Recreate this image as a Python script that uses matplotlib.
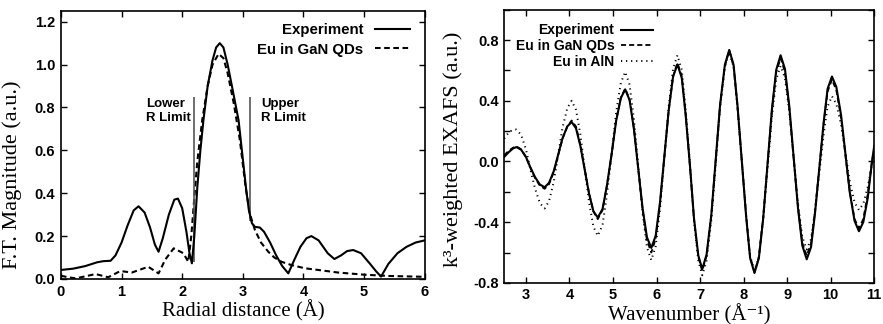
import numpy as np
import matplotlib
matplotlib.use('Agg')
import matplotlib.pyplot as plt
from matplotlib.ticker import MultipleLocator, FormatStrFormatter

plt.rcParams['font.family'] = ['Liberation Sans', 'DejaVu Sans']
plt.rcParams['font.weight'] = 'bold'
plt.rcParams['axes.unicode_minus'] = False

# left panel: Fourier transform magnitude
r_exp = [0.0, 0.2, 0.4, 0.6, 0.7, 0.82, 0.9, 1.0, 1.1, 1.2, 1.28, 1.38, 1.47, 1.55,
         1.61, 1.68, 1.78, 1.87, 1.93, 2.0, 2.07, 2.12, 2.16, 2.2, 2.25, 2.3, 2.35,
         2.42, 2.5, 2.56, 2.62, 2.68, 2.75, 2.82, 2.93, 3.0, 3.05, 3.1, 3.15, 3.2,
         3.28, 3.35, 3.45, 3.55, 3.65, 3.75, 3.85, 3.95, 4.05, 4.13, 4.25, 4.4, 4.51,
         4.62, 4.72, 4.82, 4.95, 5.1, 5.2, 5.28, 5.4, 5.55, 5.7, 5.85, 6.0]
ft_exp = [0.042, 0.048, 0.06, 0.078, 0.083, 0.085, 0.11, 0.17, 0.25, 0.32, 0.339, 0.31,
          0.24, 0.16, 0.127, 0.19, 0.30, 0.37, 0.375, 0.33, 0.22, 0.12, 0.073, 0.2,
          0.43, 0.6, 0.74, 0.9, 1.02, 1.08, 1.10, 1.08, 1.0, 0.9, 0.74, 0.56, 0.43,
          0.32, 0.26, 0.243, 0.24, 0.22, 0.17, 0.11, 0.06, 0.026, 0.09, 0.15, 0.19,
          0.2, 0.18, 0.12, 0.093, 0.11, 0.13, 0.135, 0.12, 0.07, 0.035, 0.011, 0.07,
          0.12, 0.15, 0.17, 0.18]

r_fit = [0.0, 0.12, 0.24, 0.4, 0.57, 0.78, 0.98, 1.17, 1.44, 1.61, 1.72, 1.86, 2.02,
         2.1, 2.15, 2.2, 2.25, 2.33, 2.42, 2.5, 2.6, 2.68, 2.75, 2.85, 2.95, 3.05,
         3.12, 3.2, 3.3, 3.42, 3.52, 3.64, 3.8, 4.02, 4.3, 4.57, 5.0, 5.4, 6.0]
ft_fit = [0.015, 0.008, 0.003, 0.012, 0.023, 0.008, 0.037, 0.03, 0.057, 0.026, 0.09,
          0.143, 0.12, 0.08, 0.2, 0.38, 0.55, 0.74, 0.9, 1.0, 1.05, 1.03, 0.96, 0.82,
          0.65, 0.42, 0.3, 0.228, 0.17, 0.127, 0.1, 0.08, 0.065, 0.05, 0.04, 0.03,
          0.02, 0.014, 0.01]

limit_r = [2.2, 3.12]
limit_low = [0.08, 0.27]
limit_top = 0.85

# right panel: k^3-weighted EXAFS
k = [2.5, 2.6, 2.7,
     2.78, 2.89, 3.0, 3.1, 3.21, 3.32,
     3.43, 3.53, 3.64, 3.74, 3.84, 3.95,
     4.05, 4.15, 4.25, 4.35, 4.45, 4.55,
     4.65, 4.76, 4.86, 4.97, 5.07, 5.18,
     5.28, 5.38, 5.48, 5.58, 5.68, 5.78,
     5.88, 5.98, 6.08, 6.18, 6.28, 6.38,
     6.48, 6.58, 6.67, 6.77, 6.86, 6.96,
     7.05, 7.15, 7.26, 7.36, 7.46, 7.57,
     7.67, 7.77, 7.86, 7.96, 8.06, 8.15,
     8.25, 8.35, 8.45, 8.55, 8.65, 8.75,
     8.85, 8.95, 9.05, 9.15, 9.25, 9.35,
     9.45, 9.55, 9.64, 9.74, 9.84, 9.93,
     10.03, 10.13, 10.24, 10.34, 10.44, 10.55,
     10.65, 10.75, 10.85, 10.95, 11.0]
chi_exp = [0.03, 0.06, 0.085,
           0.095, 0.077, 0.029, -0.038, -0.104, -0.152,
           -0.17, -0.141, -0.063, 0.045, 0.153, 0.231,
           0.26, 0.218, 0.103, -0.055, -0.213, -0.328,
           -0.37, -0.313, -0.159, 0.053, 0.264, 0.418,
           0.475, 0.405, 0.214, -0.048, -0.309, -0.5,
           -0.57, -0.489, -0.268, 0.035, 0.338, 0.559,
           0.64, 0.55, 0.303, -0.035, -0.373, -0.62,
           -0.71, -0.613, -0.349, 0.013, 0.374, 0.638,
           0.735, 0.637, 0.368, 0.0, -0.368, -0.637,
           -0.735, -0.639, -0.376, -0.018, 0.341, 0.604,
           0.7, 0.61, 0.364, 0.028, -0.309, -0.555,
           -0.645, -0.564, -0.344, -0.043, 0.259, 0.479,
           0.56, 0.492, 0.305, 0.05, -0.205, -0.392,
           -0.46, -0.4, -0.245, 0.0, 0.1]
chi_gan = [0.04, 0.07, 0.09,
           0.1, 0.08, 0.03, -0.04, -0.11, -0.16,
           -0.18, -0.15, -0.07, 0.04, 0.15, 0.23,
           0.27, 0.23, 0.11, -0.05, -0.21, -0.33,
           -0.38, -0.32, -0.16, 0.05, 0.27, 0.42,
           0.48, 0.41, 0.22, -0.05, -0.32, -0.52,
           -0.6, -0.51, -0.28, 0.03, 0.34, 0.56,
           0.65, 0.56, 0.31, -0.04, -0.38, -0.63,
           -0.72, -0.62, -0.35, 0.01, 0.37, 0.63,
           0.73, 0.63, 0.36, 0.0, -0.36, -0.63,
           -0.73, -0.63, -0.37, -0.02, 0.33, 0.59,
           0.68, 0.59, 0.35, 0.02, -0.3, -0.54,
           -0.62, -0.54, -0.33, -0.04, 0.25, 0.46,
           0.54, 0.47, 0.29, 0.04, -0.2, -0.38,
           -0.44, -0.38, -0.22, 0.0, 0.08]
chi_aln = [0.15, 0.19, 0.21,
           0.21, 0.175, 0.08, -0.05, -0.18, -0.275,
           -0.31, -0.262, -0.133, 0.045, 0.223, 0.352,
           0.4, 0.34, 0.178, -0.045, -0.268, -0.43,
           -0.49, -0.418, -0.22, 0.05, 0.32, 0.518,
           0.59, 0.507, 0.28, -0.03, -0.34, -0.567,
           -0.65, -0.56, -0.313, 0.025, 0.363, 0.61,
           0.7, 0.603, 0.338, -0.025, -0.388, -0.653,
           -0.75, -0.652, -0.383, -0.015, 0.353, 0.622,
           0.72, 0.624, 0.36, 0.0, -0.36, -0.624,
           -0.72, -0.63, -0.383, -0.045, 0.293, 0.54,
           0.63, 0.549, 0.328, 0.025, -0.278, -0.499,
           -0.58, -0.512, -0.328, -0.075, 0.178, 0.362,
           0.43, 0.38, 0.243, 0.055, -0.133, -0.27,
           -0.32, -0.28, -0.17, -0.02, 0.05]

fig = plt.figure(figsize=(8.83, 3.24), dpi=100)
ax1 = fig.add_axes([0.069, 0.139, 0.412, 0.827])
ax2 = fig.add_axes([0.571, 0.127, 0.419, 0.843])

serif = {'family': ['Liberation Serif', 'DejaVu Serif'], 'weight': 'normal'}

# left
ax1.plot(r_exp, ft_exp, color='black', lw=1.5, label='Experiment', zorder=3)
ax1.plot(r_fit, ft_fit, color='black', lw=1.5, ls=(0, (2.7, 1.7)), label='Eu in GaN QDs', zorder=2)
ax1.vlines(limit_r, limit_low, limit_top, color='#555555', lw=1.2)
ax1.text(1.4, 0.785, 'Lower\nR Limit', fontsize=9.5, va='center', ha='left', ma='left', linespacing=1.2)
ax1.text(3.3, 0.785, 'Upper\nR Limit', fontsize=9.5, va='center', ha='left', ma='left', linespacing=1.2)
ax1.set_xlim(0, 6)
ax1.set_ylim(0, 1.25)
ax1.xaxis.set_major_locator(MultipleLocator(1))
ax1.yaxis.set_major_locator(MultipleLocator(0.2))
ax1.yaxis.set_major_formatter(FormatStrFormatter('%.1f'))
ax1.set_xlabel('Radial distance (Å)', fontdict=serif, fontsize=15, labelpad=1)
ax1.set_ylabel('F.T. Magnitude (a.u.)', fontdict=serif, fontsize=16)
ax1.yaxis.set_label_coords(-0.107, 0.39)
ax1.legend(loc='upper right', bbox_to_anchor=(0.96, 0.955), frameon=False, markerfirst=False,
           fontsize=10.8, handlelength=2.33, handletextpad=0.8, labelspacing=0.37,
           borderpad=0, borderaxespad=0)

# right
ax2.plot(k, chi_aln, color='black', lw=1.4, ls=(0, (0.6, 2.0)), label='Eu in AlN', zorder=1)
ax2.plot(k, chi_gan, color='black', lw=1.3, ls=(0, (2.8, 1.7)), label='Eu in GaN QDs', zorder=2)
ax2.plot(k, chi_exp, color='black', lw=1.5, label='Experiment', zorder=3)
ax2.set_xlim(2.5, 11)
ax2.set_ylim(-0.8, 1.0)
ax2.xaxis.set_major_locator(MultipleLocator(1))
ax2.yaxis.set_major_locator(MultipleLocator(0.4))
ax2.yaxis.set_minor_locator(MultipleLocator(0.2))
ax2.yaxis.set_major_formatter(FormatStrFormatter('%.1f'))
ax2.set_xlabel('Wavenumber (Å⁻¹)', fontdict=serif, fontsize=15, labelpad=1)
ax2.set_ylabel('k³-weighted EXAFS (a.u.)', fontdict=serif, fontsize=16)
ax2.yaxis.set_label_coords(-0.111, 0.49)
h, l = ax2.get_legend_handles_labels()
ax2.legend(h[::-1], l[::-1], loc='upper right', bbox_to_anchor=(0.403, 0.95), frameon=False,
           markerfirst=False, fontsize=10, handlelength=2.3, handletextpad=0.5,
           labelspacing=0.12, borderpad=0, borderaxespad=0)

for ax in (ax1, ax2):
    ax.tick_params(which='both', direction='in', top=True, right=True, length=4,
                   width=1, labelsize=10.5, pad=4)
    for s in ax.spines.values():
        s.set_linewidth(1.2)

fig.savefig('out.png', dpi=100)
